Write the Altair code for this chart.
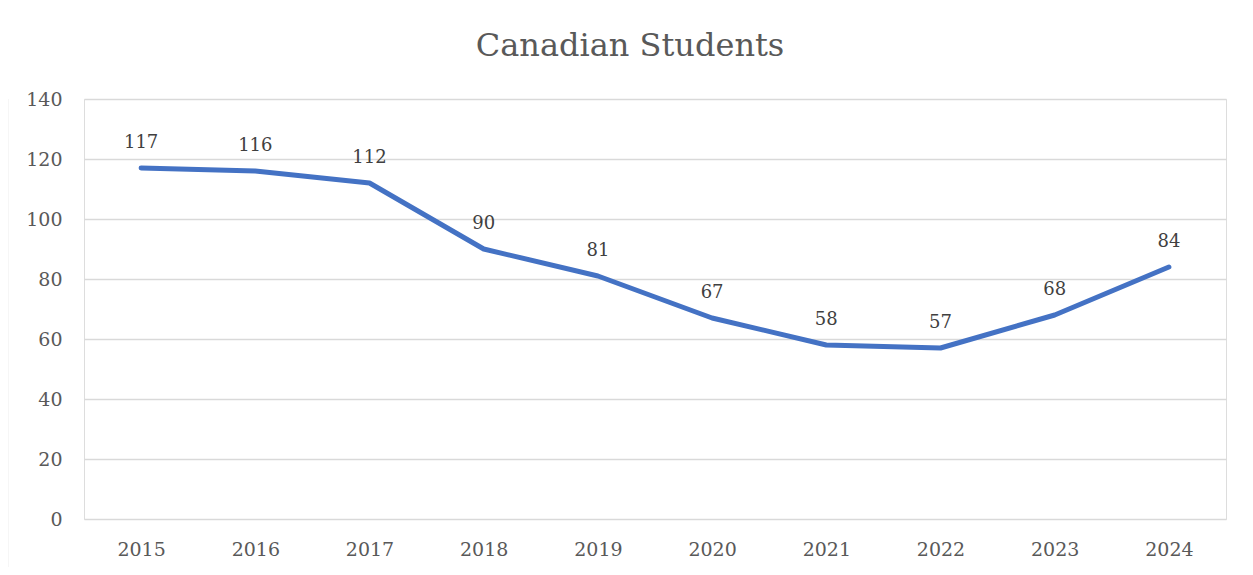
import altair as alt
import pandas as pd

years = ["2015", "2016", "2017", "2018", "2019", "2020", "2021", "2022", "2023", "2024"]
students = [117, 116, 112, 90, 81, 67, 58, 57, 68, 84]
y_ticks = [0, 20, 40, 60, 80, 100, 120, 140]

df = pd.DataFrame({"year": years, "students": students})

FONT = "DejaVu Serif"
W, H = 1142, 420

x_enc = alt.X("year:N", sort=years,
              scale=alt.Scale(paddingInner=1, paddingOuter=0.5, domain=years),
              axis=alt.Axis(title=None, labelAngle=0, domain=False, ticks=False, grid=False,
                            labelFont=FONT, labelFontSize=19, labelColor="#595959",
                            labelPadding=21))
y_enc = alt.Y("students:Q",
              scale=alt.Scale(domain=[0, 140], nice=False),
              axis=alt.Axis(title=None, values=y_ticks, domain=False, ticks=False,
                            grid=True, gridColor="#d9d9d9", gridWidth=1.5,
                            labelFont=FONT, labelFontSize=19, labelColor="#595959",
                            labelPadding=22))

border = alt.Chart(pd.DataFrame({"a": [0]})).mark_rule(
    color="#d9d9d9", strokeWidth=1.5, clip=False
).encode(x=alt.value(-76.5), y=alt.value(0), y2=alt.value(H + 48))

line = alt.Chart(df).mark_line(color="#4472C4", strokeWidth=5, strokeCap="round",
                               strokeJoin="round").encode(x=x_enc, y=y_enc)

labels = alt.Chart(df).mark_text(font=FONT, fontSize=18, color="#404040", dy=-20,
                                 baseline="alphabetic").encode(
    x=alt.X("year:N", sort=years), y="students:Q", text="students:Q")

chart = alt.layer(border, line, labels).properties(
    width=W, height=H,
    title=alt.TitleParams("Canadian Students", font=FONT, fontSize=32, fontWeight="normal",
                          color="#595959", anchor="middle", dx=-25, offset=27),
    autosize=alt.AutoSizeParams(type="none"),
    padding={"left": 76, "top": 91, "right": 19, "bottom": 48},
).configure_view(stroke=None).configure(background="white")

chart.save("out.html", embed_options={"renderer": "svg", "actions": False})
